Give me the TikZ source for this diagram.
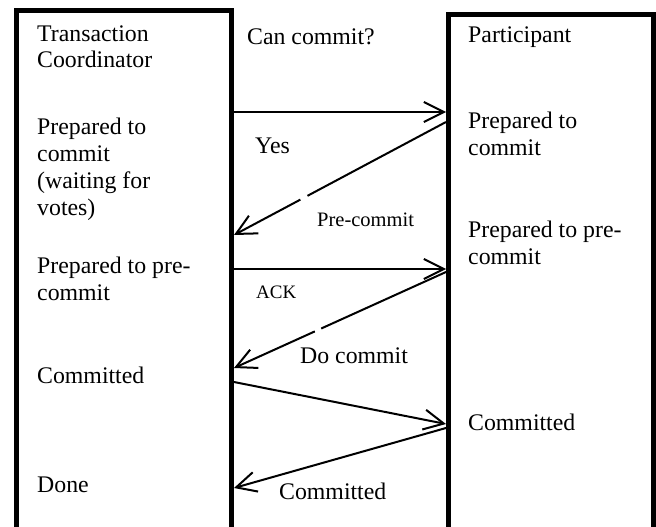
\documentclass[tikz,border=0pt]{standalone}
\usepackage{fontspec}
\setmainfont{Liberation Serif}
\usetikzlibrary{arrows.meta}
\begin{document}
\begin{tikzpicture}[x=1pt,y=-1pt,
  lane/.style={draw, line width=5pt, rectangle, anchor=north west, inner sep=0pt},
  msg/.style={line width=2pt, -{Straight Barb[length=20pt,width=20pt,line width=2pt]}},
  lbl/.style={anchor=base west, inner sep=0pt, align=left,
    font=\fontsize{23.8}{27}\selectfont},
  small/.style={anchor=base west, inner sep=0pt, font=\fontsize{20.5}{24}\selectfont},
  tiny/.style={anchor=base west, inner sep=0pt, font=\fontsize{19}{22}\selectfont}]
\useasboundingbox (0,0) rectangle (656,527);

% the two lifelines
\node[lane, minimum width=215pt, minimum height=520pt] (tc) at (14,8.5) {};
\node[lane, minimum width=205pt, minimum height=520pt] (pt) at (446,12) {};

% coordinator states (anchored on the baseline of the last line)
\node[lbl] (tcname) at (37,68) {Transaction\\Coordinator};
\node[lbl] (tc1) at (37,215) {Prepared to\\commit\\(waiting for\\votes)};
\node[lbl] (tc2) at (37,300) {Prepared to pre-\\commit};
\node[lbl] (tc3) at (37,383) {Committed};
\node[lbl] (tc4) at (37,492) {Done};

% participant states
\node[lbl] (ptname) at (468,43) {Participant};
\node[lbl] (pt1) at (468,155) {Prepared to\\commit};
\node[lbl] (pt2) at (468,264) {Prepared to pre-\\commit};
\node[lbl] (pt3) at (468,430) {Committed};

% message labels
\node[lbl] (m1) at (247,45) {Can commit?};
\node[lbl] (m2) at (255,153) {Yes};
\node[small] (m3) at (317,226) {Pre-commit};
\node[tiny] (m4) at (256,298) {ACK};
\node[lbl] (m5) at (300,363) {Do commit};
\node[lbl] (m6) at (279,499) {Committed};

% messages
\draw[msg] (tc.east |- 0,112) -- (pt.west |- 0,112);
\draw[msg, dash pattern=on 157pt off 8pt on 400pt] (pt.west |- 0,122) -- (tc.east |- 0,235);
\draw[msg] (tc.east |- 0,269) -- (pt.west |- 0,269);
\draw[msg, dash pattern=on 137pt off 7pt on 400pt] (pt.west |- 0,272) -- (tc.east |- 0,368);
\draw[msg] (tc.east |- 0,382) -- (pt.west |- 0,424);
\draw[msg] (pt.west |- 0,428) -- (tc.east |- 0,488);
\end{tikzpicture}
\end{document}
